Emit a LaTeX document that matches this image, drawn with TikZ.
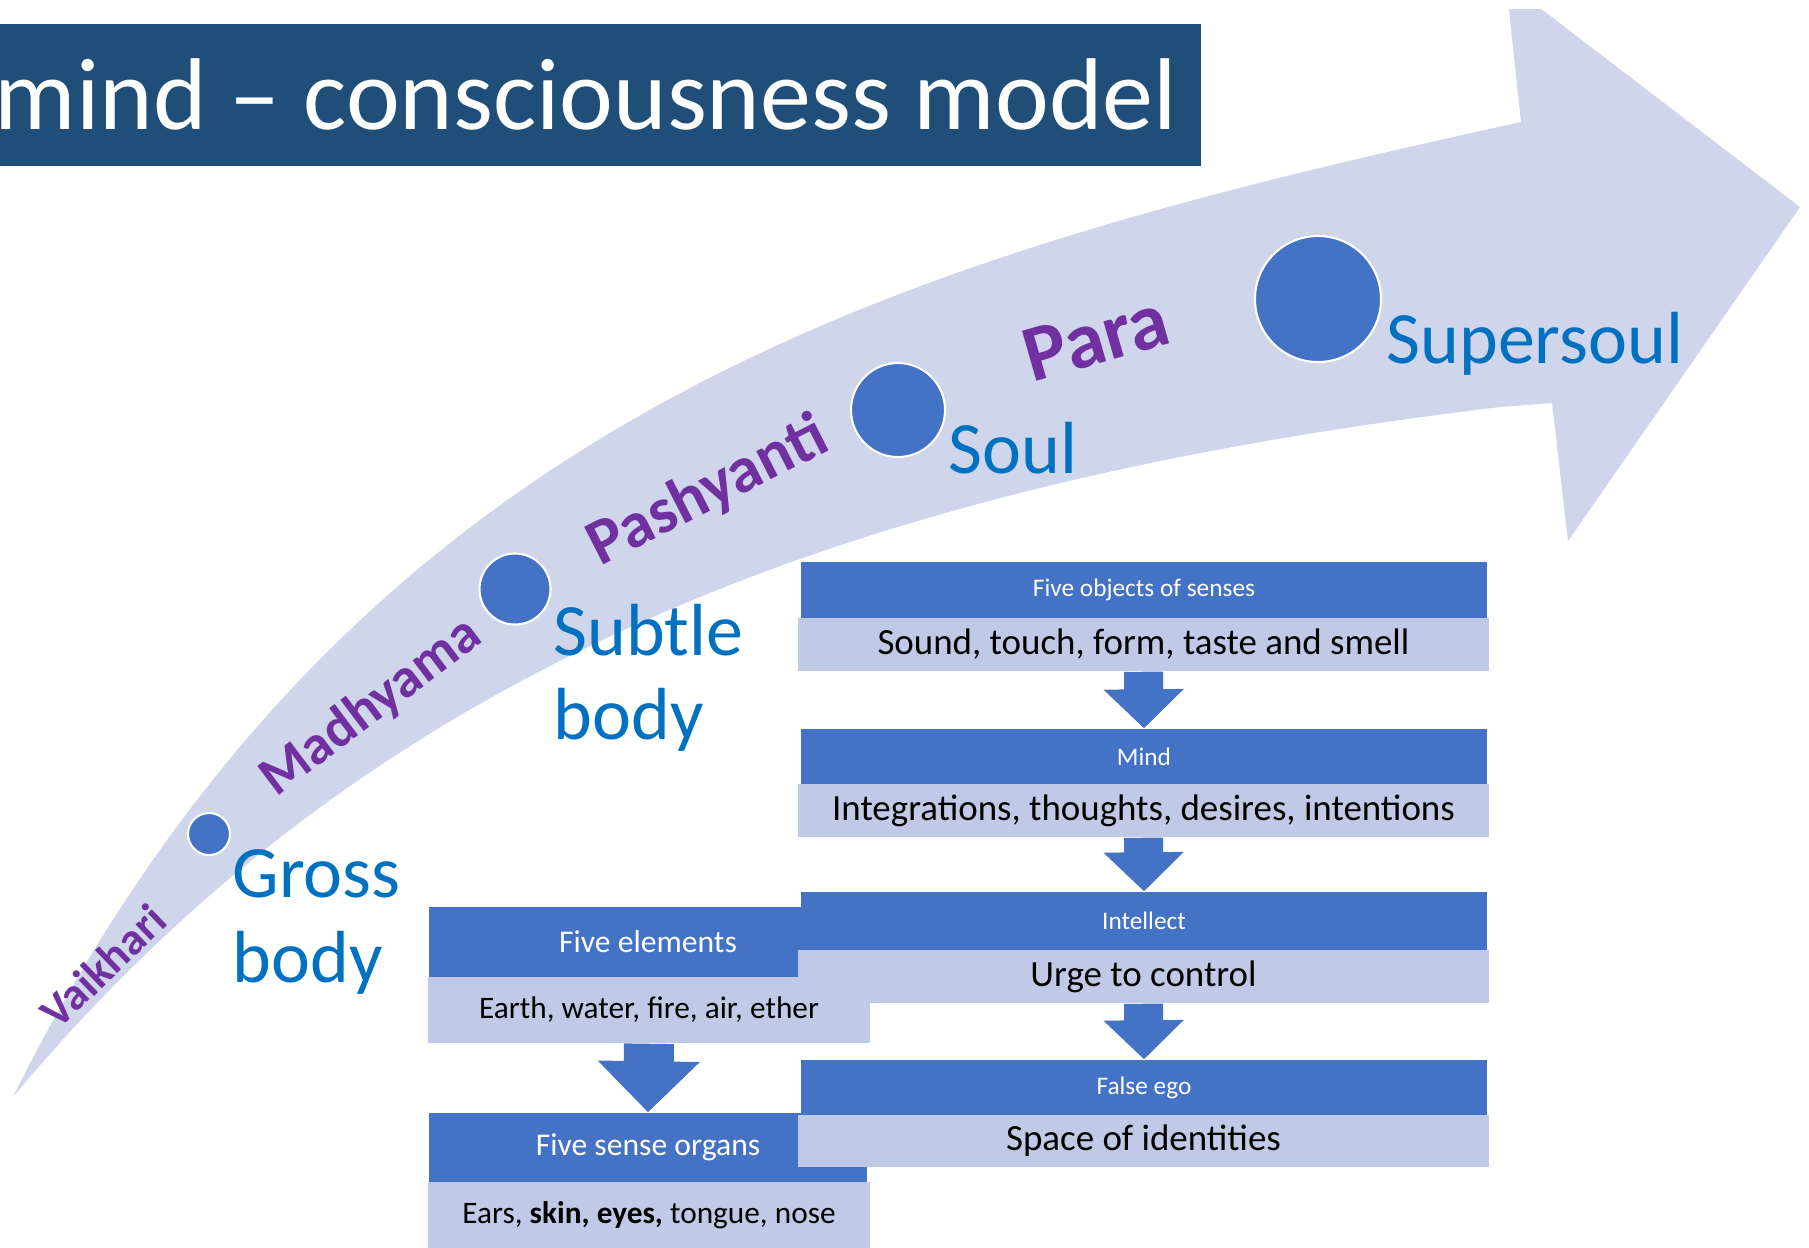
\documentclass[tikz,border=0pt]{standalone}
\usepackage{fontspec}
\setmainfont{Carlito}
\usepackage{tikz}
\usetikzlibrary{arrows.meta}
\definecolor{barblue}{HTML}{1F4E79}
\definecolor{bandgrey}{HTML}{CFD5EA}
\definecolor{boxblue}{HTML}{4472C4}
\definecolor{boxpale}{HTML}{C0CAE6}
\definecolor{labelblue}{HTML}{0070C0}
\definecolor{stagepurple}{HTML}{7030A0}

\begin{document}
\begin{tikzpicture}[x=0.01cm,y=-0.01cm]
    \tikzstyle{stagedot}=[circle,fill=boxblue,draw=white,line width=0.6pt,inner sep=0pt]
    \tikzstyle{stagename}=[text=stagepurple,inner sep=0pt,anchor=base west]
    \tikzstyle{layerlabel}=[text=labelblue,inner sep=0pt,align=left]
    \tikzstyle{headbox}=[fill=boxblue,text=white,inner sep=0pt]
    \tikzstyle{bodybox}=[fill=boxpale,inner sep=0pt]
    \tikzstyle{downarrow}=[boxblue,line width=0.39cm,-{Triangle[width=0.78cm,length=0.39cm]}]
    \tikzstyle{widearrow}=[boxblue,line width=0.5cm,-{Triangle[width=0.99cm,length=0.51cm]}]

    \useasboundingbox (0,0) rectangle (1809,1247);

    \begin{scope}
    \clip (0,9) rectangle (1809,1247);
    \fill[bandgrey] (13,1097) .. controls (355,410) and (900,258) .. (1521,122)
        -- (1506,-18) -- (1800,207) -- (1568,541) -- (1552,403) -- (1500,407)
        .. controls (850,485) and (373,665) .. (13,1097) -- cycle;
    \end{scope}

    \fill[barblue] (0,24) rectangle (1201,166);
    \node[anchor=base east,text=white,inner sep=0pt,font=\fontsize{29}{34}\selectfont] (title) at (1178,129) {mind – consciousness model};

    \node[stagedot,minimum size=0.42cm] (grossDot)  at (209,834)  {};
    \node[stagedot,minimum size=0.71cm] (subtleDot) at (515,589)  {};
    \node[stagedot,minimum size=0.94cm] (soulDot)   at (898,410)  {};
    \node[stagedot,minimum size=1.26cm] (superDot)  at (1318,299) {};

    \node[stagename,rotate=44,font=\bfseries\fontsize{12.9}{15}\selectfont] (vaikhari)  at (58,1031) {Vaikhari};
    \node[stagename,rotate=37,font=\bfseries\fontsize{15.8}{18}\selectfont] (madhyama)  at (276,798) {Madhyama};
    \node[stagename,rotate=27,font=\bfseries\fontsize{18.5}{21}\selectfont] (pashyanti) at (600,567) {Pashyanti};
    \node[stagename,rotate=16,font=\bfseries\fontsize{22.8}{26}\selectfont] (para)      at (1032,383) {Para};

    \node[layerlabel,anchor=north west,font=\fontsize{21}{24.2}\selectfont] (gross)     at (232,849)  {Gross\\body};
    \node[layerlabel,anchor=north west,font=\fontsize{21}{24}\selectfont]   (subtle)    at (553,603)  {Subtle\\body};
    \node[layerlabel,anchor=base west,font=\fontsize{21}{24}\selectfont]    (soul)      at (948,473)  {Soul};
    \node[layerlabel,anchor=base west,font=\fontsize{21}{24}\selectfont]    (supersoul) at (1386,363) {Supersoul};

    \node[headbox,minimum width=4.37cm,minimum height=0.70cm,font=\fontsize{9}{11}\selectfont]   (elements)     at (648,942)    {Five elements};
    \node[bodybox,minimum width=4.42cm,minimum height=0.66cm,font=\fontsize{8.9}{11}\selectfont] (elementsList) at (649,1010)   {Earth, water, fire, air, ether};
    \node[headbox,minimum width=4.37cm,minimum height=0.69cm,font=\fontsize{9}{11}\selectfont]   (organs)       at (648,1147.5) {Five sense organs};
    \node[bodybox,minimum width=4.42cm,minimum height=0.66cm,font=\fontsize{8.9}{11}\selectfont] (organsList)   at (649,1215)   {Ears, \textbf{skin, eyes,} tongue, nose};
    \draw[widearrow] (elementsList.south) -- (organs.north);

    \node[headbox,minimum width=6.86cm,minimum height=0.56cm,font=\fontsize{7.2}{9}\selectfont]    (objects)       at (1144,590)    {Five objects of senses};
    \node[bodybox,minimum width=6.91cm,minimum height=0.53cm,font=\fontsize{10.5}{12}\selectfont]  (objectsList)   at (1143.5,644.5) {Sound, touch, form, taste and smell};
    \node[headbox,minimum width=6.86cm,minimum height=0.55cm,font=\fontsize{7.2}{9}\selectfont]    (mind)          at (1144,756.5)  {Mind};
    \node[bodybox,minimum width=6.91cm,minimum height=0.53cm,font=\fontsize{10.5}{12}\selectfont]  (mindList)      at (1143.5,810.5) {Integrations, thoughts, desires, intentions};
    \node[headbox,minimum width=6.86cm,minimum height=0.58cm,font=\fontsize{7.2}{9}\selectfont]    (intellect)     at (1144,921)    {Intellect};
    \node[bodybox,minimum width=6.91cm,minimum height=0.53cm,font=\fontsize{10.5}{12}\selectfont]  (intellectList) at (1143.5,976.5) {Urge to control};
    \node[headbox,minimum width=6.86cm,minimum height=0.55cm,font=\fontsize{7.2}{9}\selectfont]    (ego)           at (1144,1087.5) {False ego};
    \node[bodybox,minimum width=6.91cm,minimum height=0.52cm,font=\fontsize{10.5}{12}\selectfont]  (egoList)       at (1143.5,1141) {Space of identities};
    \draw[downarrow] (objectsList.south) -- (mind.north);
    \draw[downarrow] (mindList.south) -- (intellect.north);
    \draw[downarrow] (intellectList.south) -- (ego.north);

\end{tikzpicture}
\end{document}
